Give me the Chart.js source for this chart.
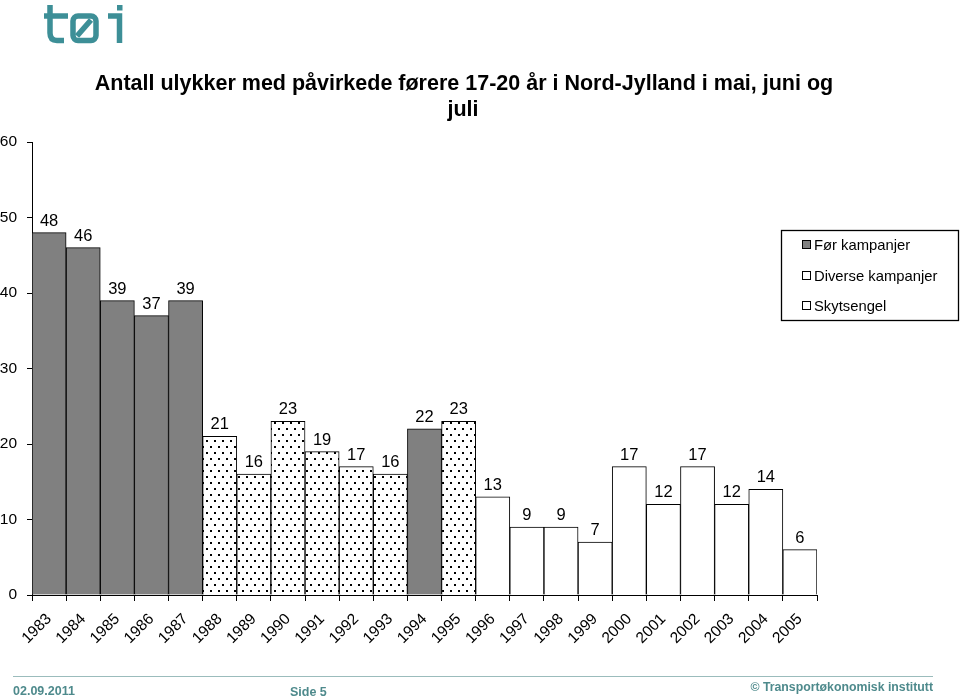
<!DOCTYPE html>
<html>
<head>
<meta charset="utf-8">
<script src="https://cdn.jsdelivr.net/npm/chart.js@4/dist/chart.umd.min.js"></script>
<style>
  html,body{margin:0;padding:0;background:#fff;}
  #wrap{position:relative;width:960px;height:700px;overflow:hidden;font-family:"Liberation Sans",Arial,sans-serif;}
  #c{position:absolute;left:0;top:0;}
  #logo{position:absolute;left:0;top:0;}
  .foot{position:absolute;color:#4e8a8c;font-weight:bold;white-space:nowrap;}
  #rule{position:absolute;left:13px;top:676px;width:920px;height:0;border-top:1px solid #9bbcbc;}
</style>
</head>
<body>
<div id="wrap">
  <canvas id="c" width="960" height="700"></canvas>
  <svg id="logo" width="140" height="50" viewBox="0 0 140 50">
    <g fill="none" stroke="#3d8f97" stroke-width="5.5" stroke-linecap="butt">
      <path d="M50 5 V33 Q50 40.5 57 40.5 H64"/>
      <path d="M44 16 H68"/>
      <rect x="73" y="16" width="23" height="24.5" rx="5"/>
      <path d="M77 36 L91 20"/>
      <path d="M108 16 H119.5 V43"/>
    </g>
    <rect x="117" y="5" width="5.5" height="5.5" fill="#3d8f97"/>
  </svg>
  <div id="rule"></div>
  <div class="foot" style="left:13px;top:684px;font-size:12.5px;">02.09.2011</div>
  <div class="foot" style="left:290px;top:685px;font-size:12.5px;">Side 5</div>
  <div class="foot" style="right:27px;top:680px;font-size:12.3px;">© Transportøkonomisk institutt</div>
</div>
<script>
const years = ["1983","1984","1985","1986","1987","1988","1989","1990","1991","1992","1993","1994","1995","1996","1997","1998","1999","2000","2001","2002","2003","2004","2005"];
const forKampanjer = [48,46,39,37,39,null,null,null,null,null,null,22,null,null,null,null,null,null,null,null,null,null,null];
const diverseKampanjer = [null,null,null,null,null,21,16,23,19,17,16,null,23,null,null,null,null,null,null,null,null,null,null];
const skytsengel = [null,null,null,null,null,null,null,null,null,null,null,null,null,13,9,9,7,17,12,17,12,14,6];
const seriesNames = ["Før kampanjer","Diverse kampanjer","Skytsengel"];
const titleLines = ["Antall ulykker med påvirkede førere 17-20 år i Nord-Jylland i mai, juni og","juli"];
const yTicks = [0,10,20,30,40,50,60];

const FONT = '"Liberation Sans", Arial, sans-serif';
Chart.defaults.font.family = FONT;
Chart.defaults.color = '#000';

// dotted pattern
const pc = document.createElement('canvas');
pc.width = 8; pc.height = 12;
const px = pc.getContext('2d');
px.fillStyle = '#fff'; px.fillRect(0,0,8,12);
px.fillStyle = '#000';
px.fillRect(2,2,2,2); px.fillRect(6,8,2,2);
const ctx = document.getElementById('c').getContext('2d');
const dots = ctx.createPattern(pc,'repeat');

const fills = ['#808080', dots, '#ffffff'];

const titlePlugin = {
  id:'customTitle',
  afterDraw(chart){
    const c = chart.ctx; c.save();
    c.font = 'bold 21.5px ' + FONT; c.fillStyle = '#000';
    c.textAlign = 'center'; c.textBaseline = 'middle';
    c.fillText(titleLines[0], 464, 84);
    c.fillText(titleLines[1], 463, 110);
    c.restore();
  }
};
const labelPlugin = {
  id:'valueLabels',
  afterDatasetsDraw(chart){
    const c = chart.ctx; c.save();
    c.font = '16.5px ' + FONT; c.fillStyle = '#000';
    c.textAlign = 'center'; c.textBaseline = 'alphabetic';
    chart.data.datasets.forEach((ds,i)=>{
      const meta = chart.getDatasetMeta(i);
      meta.data.forEach((el,j)=>{
        const v = ds.data[j];
        if (v === null || v === undefined) return;
        c.fillText(String(v), el.x, el.y - 7);
      });
    });
    c.restore();
  }
};
const legendPlugin = {
  id:'customLegend',
  afterDraw(chart){
    const c = chart.ctx; c.save();
    c.strokeStyle = '#000'; c.lineWidth = 1.3;
    c.fillStyle = '#fff';
    c.fillRect(781,230,178,91);
    c.strokeRect(781.5,230.5,177,90);
    c.font = '14.8px ' + FONT; c.textBaseline = 'middle'; c.textAlign='left';
    const rows = [245,276,306];
    const sq = ['#808080','#ffffff','#ffffff'];
    seriesNames.forEach((n,i)=>{
      c.fillStyle = sq[i];
      c.fillRect(802.5, rows[i]-4.5, 8, 8);
      c.lineWidth = 1; c.strokeStyle = '#000';
      c.strokeRect(802.5, rows[i]-4.5, 8, 8);
      c.fillStyle = '#000';
      c.fillText(n, 814, rows[i]+1);
    });
    c.restore();
  }
};

new Chart(ctx, {
  type:'bar',
  data:{
    labels: years,
    datasets: [forKampanjer, diverseKampanjer, skytsengel].map((d,i)=>({
      label: seriesNames[i],
      data: d,
      backgroundColor: fills[i],
      borderColor: '#000',
      borderWidth: 1,
      barPercentage: 1,
      categoryPercentage: 1
    }))
  },
  options:{
    responsive:false,
    animation:false,
    devicePixelRatio:1,
    layout:{padding:{top:142,right:143,bottom:40,left:0}},
    plugins:{legend:{display:false},title:{display:false},tooltip:{enabled:false}},
    scales:{
      x:{
        stacked:true,
        grid:{drawOnChartArea:false, tickLength:6, color:'#000', offset:true},
        border:{color:'#000', width:1},
        ticks:{minRotation:45, maxRotation:45, font:{size:15.5}, color:'#000', padding:9},
        afterFit(s){ s.height = 65; }
      },
      y:{
        stacked:true,
        min:0, max:60,
        afterBuildTicks(s){ s.ticks = yTicks.map(v=>({value:v})); },
        grid:{drawOnChartArea:false, tickLength:5, color:'#000'},
        border:{color:'#000', width:1},
        ticks:{font:{size:15.5}, color:'#000', padding:10},
        afterFit(s){ s.width = 32; }
      }
    }
  },
  plugins:[labelPlugin, titlePlugin, legendPlugin]
});
</script>
</body>
</html>
